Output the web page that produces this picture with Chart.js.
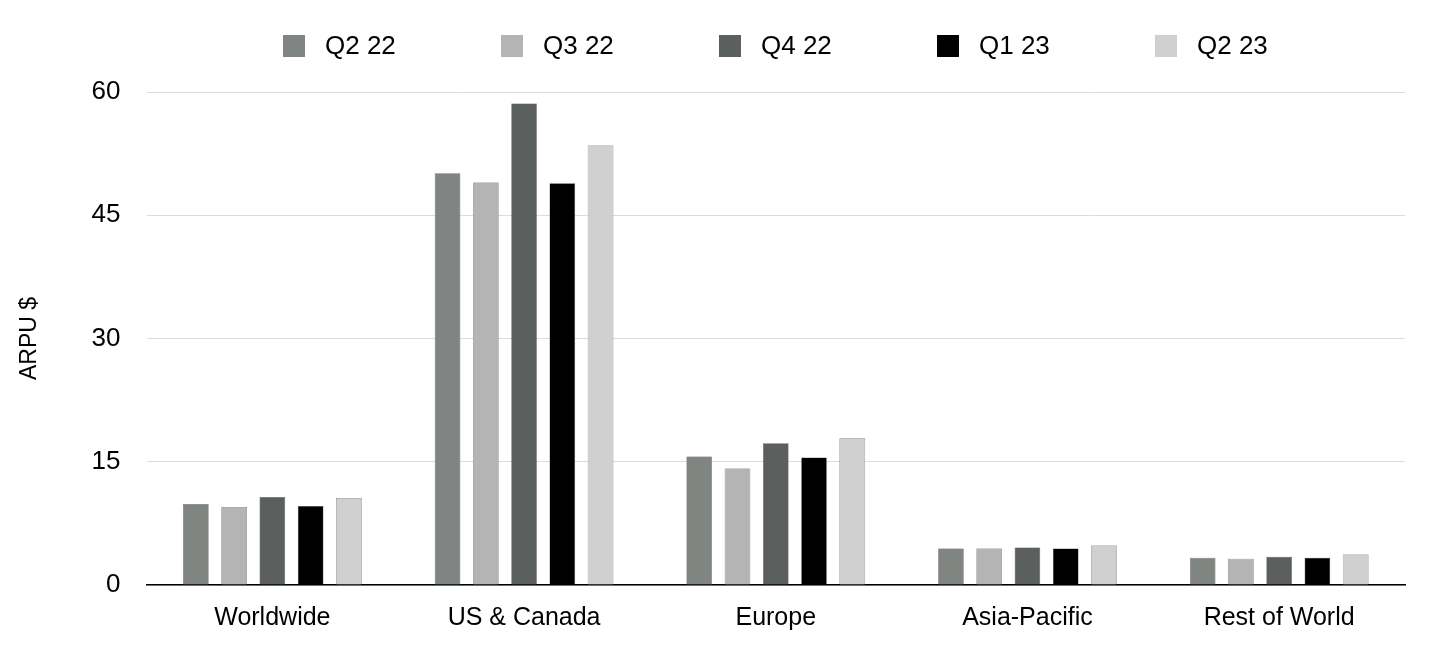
<!DOCTYPE html>
<html><head><meta charset="utf-8">
<script src="https://cdn.jsdelivr.net/npm/chart.js@4"></script>
<style>html,body{margin:0;padding:0;background:#fff}#w{position:relative;width:1456px;height:657px}
#lg{position:absolute;top:30px;left:0;width:1456px;display:flex;justify-content:center;gap:0;font:26px 'Liberation Sans',Arial,sans-serif}
.it{display:flex;align-items:center;width:218px}
.bx{width:22px;height:22px;margin-right:20px}
canvas{position:absolute;top:0;left:0}
</style>
</head><body><div id="w"><canvas id="c"></canvas><div id="lg"></div></div>
<script>
const categories = ["Worldwide","US & Canada","Europe","Asia-Pacific","Rest of World"];
const seriesNames = ["Q2 22","Q3 22","Q4 22","Q1 23","Q2 23"];
const q222 = [9.86, 50.1, 15.65, 4.43, 3.33];
const q322 = [9.49, 49.0, 14.17, 4.43, 3.2];
const q422 = [10.72, 58.6, 17.25, 4.56, 3.45];
const q123 = [9.61, 48.9, 15.52, 4.43, 3.33];
const q223 = [10.6, 53.5, 17.86, 4.8, 3.7];
const yTicks = [0,15,30,45,60];
const colors = ["#808582","#b4b4b4","#5b5f5d","#000000","#d0d0d0"];
const vals = [q222,q322,q422,q123,q223];
const lg = document.getElementById('lg');
lg.style.paddingLeft='100px';
seriesNames.forEach((n,i)=>{const d=document.createElement('div');d.className='it';
 d.innerHTML='<span class="bx" style="background:'+colors[i]+'"></span><span>'+n+'</span>';lg.appendChild(d);});
Chart.defaults.font.family = "'Liberation Sans', Arial, sans-serif";
Chart.defaults.color = "#000";
const w=document.getElementById('w');
new Chart(document.getElementById('c'), {
  type: 'bar',
  data: { labels: categories, datasets: seriesNames.map((n,i)=>({label:n,data:vals[i],backgroundColor:colors[i],borderColor:'#444',borderWidth:0.5,categoryPercentage:0.76,barPercentage:0.67})) },
  options: {
    responsive:true, maintainAspectRatio:false, animation:false,
    layout:{padding:{left:12,right:51,top:92,bottom:14}},
    plugins:{legend:{display:false},tooltip:{enabled:false}},
    scales:{
      x:{grid:{display:false},border:{color:'#000',width:1.5},ticks:{font:{size:25},padding:10}},
      y:{min:0,max:60,afterBuildTicks:a=>{a.ticks=yTicks.map(v=>({value:v}));},
         grid:{color:'#dcdcdc',drawTicks:false},border:{display:false},
         ticks:{font:{size:26},padding:26},
         title:{display:true,text:'ARPU $',font:{size:23},padding:{bottom:22}}}
    }
  }
});
</script></body></html>
